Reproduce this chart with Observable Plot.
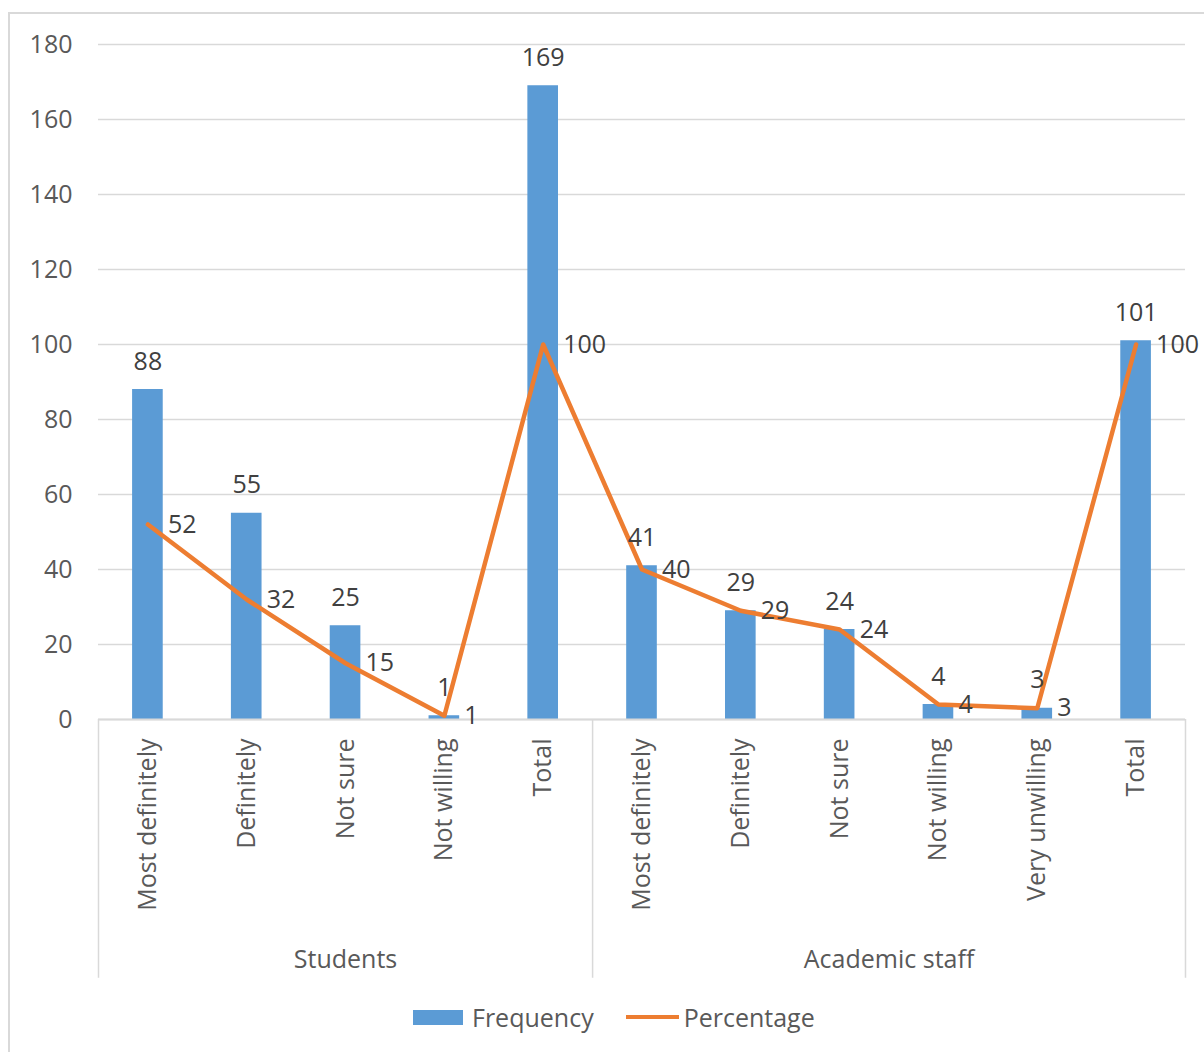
<!DOCTYPE html>
<html>
<head>
<meta charset="utf-8">
<script src="https://cdn.jsdelivr.net/npm/d3@7"></script>
<script src="https://cdn.jsdelivr.net/npm/@observablehq/plot@0.6"></script>
<style>
  html, body { margin: 0; padding: 0; background: #fff; }
  body { width: 1204px; height: 1052px; position: relative; overflow: hidden; font-family: "Open Sans", sans-serif; }
  #frame { position: absolute; left: 8px; top: 12px; width: 1300px; height: 1100px; border-left: 2px solid #d9d9d9; border-top: 2px solid #d9d9d9; box-sizing: border-box; }
  #chart { position: absolute; left: 0; top: 0; }
  #legend { position: absolute; left: 413px; top: 1000px; display: flex; align-items: center; font-size: 25px; color: #595959; }
  .sw { display: inline-block; }
</style>
</head>
<body>
<div id="frame"></div>
<div id="chart"></div>
<div id="legend">
  <span class="sw" style="width:50px;height:15px;background:#5B9BD5;margin-right:9px"></span><span>Frequency</span>
  <span class="sw" style="width:53px;height:4px;background:#ED7D31;margin-left:32px;margin-right:5px"></span><span>Percentage</span>
</div>
<script>
const ids = ["S0","S1","S2","S3","S4","A0","A1","A2","A3","A4","A5"];
const categories = ["Most definitely","Definitely","Not sure","Not willing","Total","Most definitely","Definitely","Not sure","Not willing","Very unwilling","Total"];
const groups = ["Students","Students","Students","Students","Students","Academic staff","Academic staff","Academic staff","Academic staff","Academic staff","Academic staff"];
const frequency = [88, 55, 25, 1, 169, 41, 29, 24, 4, 3, 101];
const percentage = [52, 32, 15, 1, 100, 40, 29, 24, 4, 3, 100];
const yTicks = [0, 20, 40, 60, 80, 100, 120, 140, 160, 180];

const data = ids.map((id, i) => ({id, cat: categories[i], group: groups[i], freq: frequency[i], pct: percentage[i]}));
const labelOf = Object.fromEntries(data.map(d => [d.id, d.cat]));

const W = 1204, H = 990;
const mL = 98, mR = 19, mT = 44, mB = 271;
const step = (W - mL - mR) / ids.length;
const below = -69;      // extent of the category area below the axis, in y units
const groupLabelY = -64;

const groupStarts = ["S0", "A0"];

const chart = Plot.plot({
  width: W, height: H,
  marginLeft: mL, marginRight: mR, marginTop: mT, marginBottom: mB,
  style: {fontFamily: "Open Sans, sans-serif", fontSize: "25px", color: "#595959", background: "transparent", overflow: "visible"},
  x: {domain: ids, paddingInner: 0.69, paddingOuter: 0.345, round: false, axis: null},
  y: {domain: [0, 180], axis: null},
  marks: [
    Plot.gridY(yTicks, {stroke: "#d9d9d9", strokeOpacity: 1, strokeWidth: 1.5}),
    Plot.axisY(yTicks, {tickSize: 0, tickPadding: 26, fontSize: 25, fill: "#595959", label: null}),
    Plot.barY(data, {x: "id", y: "freq", fill: "#5B9BD5"}),
    Plot.ruleY([0], {stroke: "#d9d9d9", strokeWidth: 2}),
    Plot.ruleX(groupStarts, {x: d => d, y1: 0, y2: below, dx: -step / 2, stroke: "#d9d9d9", strokeWidth: 1.5, clip: false}),
    Plot.ruleX([ids[ids.length - 1]], {x: d => d, y1: 0, y2: below, dx: step / 2, stroke: "#d9d9d9", strokeWidth: 1.5, clip: false}),
    Plot.axisX({tickSize: 0, tickPadding: 19, tickRotate: -90, tickFormat: d => labelOf[d], fontSize: 25, fill: "#595959", label: null}),
    Plot.text(["Students"], {x: () => "S2", y: () => groupLabelY, text: d => d, fontSize: 25, fill: "#595959"}),
    Plot.text(["Academic staff"], {x: () => "A2", y: () => groupLabelY, text: d => d, dx: step / 2, fontSize: 25, fill: "#595959"}),
    Plot.line(data, {x: "id", y: "pct", stroke: "#ED7D31", strokeWidth: 4.5, strokeLinejoin: "round"}),
    Plot.text(data, {x: "id", y: "freq", text: d => String(d.freq), dy: -28, fontSize: 25, fill: "#404040"}),
    Plot.text(data, {x: "id", y: "pct", text: d => String(d.pct), dx: 20, textAnchor: "start", fontSize: 25, fill: "#404040"})
  ]
});
document.getElementById("chart").appendChild(chart);
</script>
</body>
</html>
